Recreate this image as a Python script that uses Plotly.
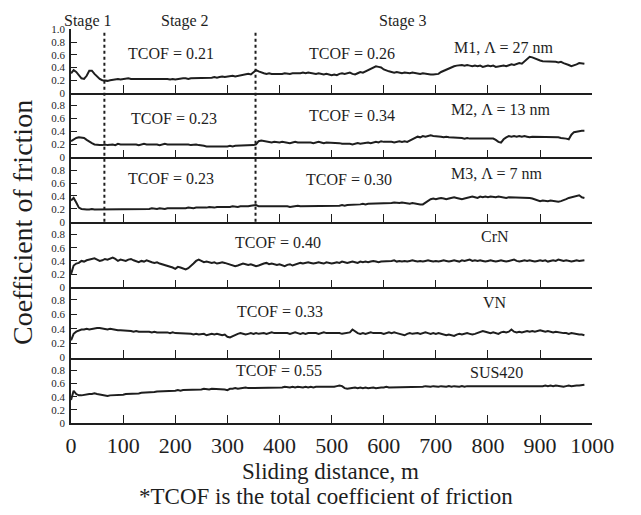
import plotly.graph_objects as go

# ---------------- data ----------------
distance_m = list(range(0, 990, 5))  # sampling grid of sliding distance, m

m1_cof = [
    0.31, 0.36, 0.33, 0.27, 0.23, 0.22, 0.27, 0.35, 0.35, 0.30, 0.26, 0.22, 0.20, 0.19, 0.19, 0.20, 0.21, 0.21, 0.22, 0.21,
    0.22, 0.22, 0.23, 0.22, 0.22, 0.23, 0.23, 0.22, 0.22, 0.23, 0.23, 0.22, 0.22, 0.23, 0.22, 0.22, 0.23, 0.22, 0.21, 0.22,
    0.21, 0.22, 0.22, 0.23, 0.23, 0.22, 0.23, 0.23, 0.24, 0.23, 0.23, 0.24, 0.24, 0.23, 0.24, 0.25, 0.24, 0.25, 0.26, 0.25,
    0.26, 0.26, 0.27, 0.26, 0.27, 0.28, 0.28, 0.29, 0.30, 0.29, 0.33, 0.36, 0.34, 0.32, 0.31, 0.30, 0.31, 0.30, 0.30, 0.29,
    0.30, 0.30, 0.31, 0.30, 0.30, 0.31, 0.31, 0.30, 0.31, 0.32, 0.31, 0.32, 0.31, 0.31, 0.30, 0.31, 0.30, 0.29, 0.30, 0.29,
    0.28, 0.29, 0.28, 0.30, 0.31, 0.30, 0.31, 0.32, 0.30, 0.29, 0.31, 0.33, 0.32, 0.34, 0.36, 0.37, 0.40, 0.42, 0.41, 0.40,
    0.37, 0.35, 0.34, 0.33, 0.32, 0.33, 0.32, 0.31, 0.32, 0.31, 0.31, 0.32, 0.31, 0.31, 0.30, 0.31, 0.30, 0.30, 0.29, 0.29,
    0.29, 0.30, 0.33, 0.35, 0.36, 0.38, 0.40, 0.42, 0.43, 0.44, 0.44, 0.43, 0.44, 0.43, 0.42, 0.43, 0.42, 0.43, 0.41, 0.42,
    0.43, 0.42, 0.43, 0.41, 0.42, 0.42, 0.43, 0.42, 0.44, 0.45, 0.44, 0.46, 0.47, 0.46, 0.50, 0.53, 0.57, 0.56, 0.54, 0.52,
    0.51, 0.50, 0.50, 0.49, 0.49, 0.50, 0.49, 0.48, 0.49, 0.47, 0.46, 0.44, 0.42, 0.43, 0.45, 0.47, 0.46, 0.46,
]
m2_cof = [
    0.25, 0.28, 0.30, 0.31, 0.31, 0.30, 0.27, 0.24, 0.22, 0.20, 0.19, 0.19, 0.19, 0.20, 0.19, 0.20, 0.20, 0.19, 0.21, 0.20,
    0.20, 0.21, 0.20, 0.20, 0.21, 0.20, 0.19, 0.20, 0.21, 0.20, 0.20, 0.21, 0.20, 0.20, 0.19, 0.20, 0.21, 0.20, 0.20, 0.21,
    0.21, 0.20, 0.20, 0.21, 0.20, 0.20, 0.19, 0.20, 0.20, 0.19, 0.19, 0.18, 0.17, 0.17, 0.16, 0.16, 0.17, 0.17, 0.16, 0.17,
    0.17, 0.18, 0.17, 0.18, 0.18, 0.19, 0.18, 0.18, 0.19, 0.18, 0.19, 0.20, 0.25, 0.26, 0.25, 0.24, 0.24, 0.23, 0.24, 0.23,
    0.23, 0.24, 0.23, 0.23, 0.22, 0.23, 0.24, 0.23, 0.23, 0.24, 0.23, 0.24, 0.23, 0.22, 0.23, 0.24, 0.23, 0.22, 0.23, 0.23,
    0.22, 0.22, 0.23, 0.22, 0.21, 0.21, 0.22, 0.21, 0.20, 0.21, 0.22, 0.21, 0.22, 0.22, 0.23, 0.22, 0.23, 0.24, 0.23, 0.25,
    0.24, 0.24, 0.25, 0.24, 0.23, 0.24, 0.25, 0.24, 0.25, 0.24, 0.26, 0.29, 0.31, 0.32, 0.31, 0.33, 0.32, 0.33, 0.34, 0.33,
    0.33, 0.32, 0.32, 0.31, 0.32, 0.31, 0.31, 0.30, 0.30, 0.31, 0.30, 0.29, 0.30, 0.29, 0.29, 0.28, 0.29, 0.28, 0.28, 0.29,
    0.28, 0.28, 0.29, 0.27, 0.24, 0.23, 0.28, 0.31, 0.33, 0.32, 0.33, 0.32, 0.33, 0.32, 0.33, 0.32, 0.31, 0.32, 0.32, 0.31,
    0.32, 0.31, 0.32, 0.31, 0.31, 0.32, 0.31, 0.31, 0.30, 0.30, 0.29, 0.28, 0.35, 0.39, 0.40, 0.40, 0.41, 0.41,
]
m3_cof = [
    0.33, 0.37, 0.30, 0.22, 0.20, 0.19, 0.19, 0.19, 0.20, 0.19, 0.19, 0.20, 0.19, 0.19, 0.20, 0.19, 0.19, 0.20, 0.19, 0.19,
    0.20, 0.19, 0.20, 0.19, 0.19, 0.20, 0.20, 0.19, 0.20, 0.20, 0.20, 0.21, 0.20, 0.20, 0.21, 0.20, 0.20, 0.21, 0.21, 0.20,
    0.21, 0.21, 0.20, 0.21, 0.21, 0.22, 0.21, 0.21, 0.22, 0.22, 0.21, 0.22, 0.22, 0.23, 0.22, 0.22, 0.23, 0.23, 0.22, 0.23,
    0.23, 0.23, 0.24, 0.23, 0.23, 0.24, 0.24, 0.23, 0.24, 0.25, 0.25, 0.26, 0.24, 0.24, 0.25, 0.24, 0.24, 0.25, 0.24, 0.24,
    0.24, 0.25, 0.24, 0.24, 0.23, 0.24, 0.24, 0.25, 0.24, 0.24, 0.24, 0.25, 0.24, 0.25, 0.24, 0.25, 0.24, 0.25, 0.24, 0.24,
    0.25, 0.24, 0.25, 0.25, 0.26, 0.25, 0.26, 0.26, 0.27, 0.26, 0.27, 0.27, 0.28, 0.27, 0.28, 0.28, 0.29, 0.28, 0.29, 0.29,
    0.29, 0.28, 0.29, 0.29, 0.30, 0.29, 0.29, 0.30, 0.29, 0.29, 0.28, 0.29, 0.28, 0.28, 0.27, 0.27, 0.30, 0.33, 0.35, 0.36,
    0.35, 0.36, 0.37, 0.36, 0.35, 0.36, 0.37, 0.38, 0.37, 0.36, 0.35, 0.36, 0.37, 0.38, 0.39, 0.38, 0.37, 0.39, 0.38, 0.39,
    0.38, 0.39, 0.38, 0.38, 0.39, 0.38, 0.38, 0.37, 0.38, 0.38, 0.37, 0.38, 0.38, 0.37, 0.38, 0.37, 0.37, 0.36, 0.35, 0.33,
    0.32, 0.33, 0.32, 0.32, 0.33, 0.32, 0.32, 0.31, 0.32, 0.33, 0.35, 0.37, 0.38, 0.38, 0.40, 0.41, 0.38, 0.37,
]
crn_cof = [
    0.20, 0.33, 0.36, 0.37, 0.40, 0.39, 0.41, 0.42, 0.43, 0.44, 0.42, 0.40, 0.41, 0.43, 0.42, 0.44, 0.45, 0.43, 0.40, 0.42,
    0.41, 0.40, 0.42, 0.43, 0.41, 0.39, 0.38, 0.40, 0.39, 0.41, 0.39, 0.38, 0.37, 0.38, 0.36, 0.35, 0.33, 0.32, 0.31, 0.30,
    0.28, 0.31, 0.30, 0.29, 0.27, 0.29, 0.32, 0.36, 0.40, 0.42, 0.40, 0.38, 0.39, 0.38, 0.37, 0.38, 0.36, 0.37, 0.38, 0.37,
    0.36, 0.35, 0.34, 0.32, 0.33, 0.35, 0.36, 0.35, 0.34, 0.35, 0.33, 0.32, 0.33, 0.35, 0.36, 0.37, 0.35, 0.36, 0.35, 0.34,
    0.35, 0.33, 0.32, 0.34, 0.35, 0.33, 0.34, 0.36, 0.37, 0.36, 0.37, 0.38, 0.37, 0.36, 0.37, 0.38, 0.37, 0.36, 0.38, 0.37,
    0.36, 0.37, 0.38, 0.37, 0.39, 0.38, 0.37, 0.38, 0.39, 0.38, 0.37, 0.39, 0.38, 0.39, 0.38, 0.39, 0.40, 0.39, 0.38, 0.39,
    0.39, 0.40, 0.39, 0.40, 0.41, 0.39, 0.40, 0.39, 0.40, 0.39, 0.40, 0.41, 0.40, 0.39, 0.40, 0.39, 0.40, 0.41, 0.40, 0.39,
    0.40, 0.39, 0.40, 0.41, 0.40, 0.39, 0.40, 0.41, 0.40, 0.39, 0.41, 0.40, 0.41, 0.42, 0.40, 0.41, 0.40, 0.41, 0.40, 0.39,
    0.40, 0.41, 0.40, 0.39, 0.40, 0.41, 0.40, 0.39, 0.40, 0.41, 0.42, 0.40, 0.39, 0.40, 0.41, 0.40, 0.41, 0.40, 0.39, 0.40,
    0.41, 0.40, 0.41, 0.39, 0.40, 0.41, 0.40, 0.42, 0.41, 0.40, 0.41, 0.40, 0.39, 0.40, 0.41, 0.40, 0.41, 0.41,
]
vn_cof = [
    0.24, 0.33, 0.36, 0.38, 0.39, 0.39, 0.40, 0.39, 0.40, 0.40, 0.41, 0.41, 0.40, 0.39, 0.39, 0.40, 0.39, 0.38, 0.38, 0.38,
    0.38, 0.37, 0.38, 0.37, 0.36, 0.37, 0.36, 0.36, 0.37, 0.36, 0.36, 0.35, 0.36, 0.35, 0.35, 0.35, 0.36, 0.35, 0.34, 0.35,
    0.34, 0.34, 0.33, 0.34, 0.33, 0.34, 0.33, 0.32, 0.33, 0.32, 0.32, 0.33, 0.31, 0.32, 0.33, 0.32, 0.33, 0.32, 0.31, 0.32,
    0.29, 0.28, 0.30, 0.32, 0.33, 0.34, 0.33, 0.32, 0.33, 0.34, 0.33, 0.34, 0.33, 0.34, 0.34, 0.33, 0.34, 0.35, 0.34, 0.34,
    0.34, 0.35, 0.34, 0.34, 0.33, 0.34, 0.35, 0.34, 0.33, 0.34, 0.33, 0.34, 0.34, 0.35, 0.34, 0.33, 0.34, 0.35, 0.34, 0.34,
    0.34, 0.34, 0.35, 0.34, 0.33, 0.34, 0.34, 0.35, 0.39, 0.36, 0.34, 0.33, 0.34, 0.33, 0.34, 0.35, 0.34, 0.34, 0.35, 0.34,
    0.33, 0.34, 0.35, 0.34, 0.35, 0.34, 0.33, 0.32, 0.31, 0.33, 0.34, 0.33, 0.34, 0.34, 0.33, 0.34, 0.35, 0.34, 0.33, 0.34,
    0.33, 0.34, 0.33, 0.32, 0.31, 0.32, 0.31, 0.30, 0.32, 0.33, 0.32, 0.33, 0.34, 0.33, 0.32, 0.33, 0.34, 0.35, 0.37, 0.36,
    0.35, 0.34, 0.35, 0.34, 0.33, 0.35, 0.36, 0.35, 0.36, 0.39, 0.36, 0.35, 0.36, 0.35, 0.36, 0.37, 0.36, 0.37, 0.36, 0.37,
    0.38, 0.37, 0.36, 0.37, 0.36, 0.35, 0.36, 0.35, 0.34, 0.34, 0.34, 0.33, 0.34, 0.33, 0.33, 0.32, 0.32, 0.31,
]
sus420_cof = [
    0.35, 0.49, 0.44, 0.42, 0.42, 0.43, 0.43, 0.44, 0.44, 0.45, 0.44, 0.43, 0.42, 0.42, 0.41, 0.42, 0.42, 0.43, 0.43, 0.43,
    0.43, 0.44, 0.44, 0.44, 0.45, 0.45, 0.45, 0.46, 0.46, 0.46, 0.47, 0.47, 0.47, 0.48, 0.48, 0.48, 0.49, 0.48, 0.49, 0.49,
    0.49, 0.50, 0.49, 0.50, 0.50, 0.50, 0.51, 0.50, 0.50, 0.51, 0.51, 0.52, 0.51, 0.51, 0.52, 0.52, 0.51, 0.52, 0.52, 0.51,
    0.50, 0.52, 0.52, 0.53, 0.52, 0.53, 0.53, 0.54, 0.53, 0.53, 0.53, 0.54, 0.53, 0.53, 0.54, 0.54, 0.53, 0.54, 0.53, 0.54,
    0.54, 0.54, 0.55, 0.54, 0.54, 0.55, 0.54, 0.55, 0.54, 0.54, 0.55, 0.54, 0.55, 0.54, 0.55, 0.55, 0.54, 0.55, 0.55, 0.54,
    0.55, 0.55, 0.56, 0.57, 0.56, 0.53, 0.52, 0.53, 0.53, 0.54, 0.53, 0.54, 0.53, 0.54, 0.53, 0.54, 0.54, 0.53, 0.54, 0.54,
    0.54, 0.55, 0.54, 0.54, 0.55, 0.54, 0.55, 0.54, 0.55, 0.55, 0.54, 0.55, 0.55, 0.54, 0.55, 0.55, 0.56, 0.55, 0.55, 0.56,
    0.55, 0.55, 0.56, 0.55, 0.55, 0.56, 0.55, 0.56, 0.55, 0.55, 0.56, 0.55, 0.56, 0.56, 0.55, 0.56, 0.56, 0.55, 0.56, 0.56,
    0.55, 0.56, 0.56, 0.55, 0.56, 0.56, 0.55, 0.56, 0.55, 0.56, 0.56, 0.55, 0.56, 0.55, 0.56, 0.56, 0.55, 0.56, 0.56, 0.55,
    0.56, 0.56, 0.57, 0.56, 0.57, 0.56, 0.57, 0.56, 0.56, 0.55, 0.56, 0.57, 0.56, 0.57, 0.57, 0.57, 0.58, 0.58,
]

series = [m1_cof, m2_cof, m3_cof, crn_cof, vn_cof, sus420_cof]
sample_labels = ["M1, Λ = 27 nm", "M2, Λ = 13 nm", "M3, Λ = 7 nm", "CrN", "VN", "SUS420"]
tcof_labels = [
    ["TCOF = 0.21", "TCOF = 0.26"],
    ["TCOF = 0.23", "TCOF = 0.34"],
    ["TCOF = 0.23", "TCOF = 0.30"],
    ["TCOF = 0.40"],
    ["TCOF = 0.33"],
    ["TCOF = 0.55"],
]
stage_labels = ["Stage 1", "Stage 2", "Stage 3"]
stage_bounds_m = [64, 354]
x_tick_vals = [0, 100, 200, 300, 400, 500, 600, 700, 800, 900, 1000]

# ---------------- layout (pixel geometry) ----------------
W, H = 641, 515
FONT = "Liberation Serif"
INK = "#1e1e1e"

def fy(px):
    return 1 - px / H

def fx(px):
    return px / W

panel_px = [(24, 89), (89, 155), (155, 221), (221, 288), (288, 360), (360, 427)]
y_max = [1.0, 0.996, 0.996, 0.993, 0.976, 0.993]
x_dom = [fx(68), fx(613)]

fig = go.Figure()
layout = dict(
    width=W, height=H, margin=dict(l=0, r=0, t=0, b=0),
    paper_bgcolor="white", plot_bgcolor="white", showlegend=False,
    font=dict(family=FONT, color=INK),
)

for i, (vals, (top, bot)) in enumerate(zip(series, panel_px)):
    n = i + 1
    xa = "x" if n == 1 else f"x{n}"
    ya = "y" if n == 1 else f"y{n}"
    fig.add_trace(go.Scatter(x=distance_m, y=vals, mode="lines", xaxis=xa, yaxis=ya,
                             line=dict(color=INK, width=2), hoverinfo="skip"))
    yt = [0, 0.2, 0.4, 0.6, 0.8] + ([1.0] if n == 1 else [])
    ytt = ["0", "0.2", "0.4", "0.6", "0.8"] + (["1.0"] if n == 1 else [])
    layout["yaxis" if n == 1 else f"yaxis{n}"] = dict(
        domain=[fy(bot), fy(top)], range=[0, y_max[i]], anchor=xa,
        showline=True, linecolor=INK, linewidth=1.5, mirror=False,
        ticks="inside", ticklen=6, tickwidth=1.2, tickcolor=INK,
        tickvals=yt, ticktext=ytt, tickfont=dict(family=FONT, size=11, color=INK),
        ticklabelstandoff=2,
        showgrid=False, zeroline=False, fixedrange=True,
    )
    xa_cfg = dict(
        domain=x_dom, range=[0, 1000], anchor=ya,
        showline=True, linecolor=INK, linewidth=1.5,
        ticks="inside", ticklen=8, tickwidth=1.2, tickcolor=INK,
        tickvals=x_tick_vals, ticktext=[str(v) for v in x_tick_vals],
        showticklabels=(n == 6), tickfont=dict(family=FONT, size=22, color=INK),
        ticklabelstandoff=2,
        showgrid=False, zeroline=False, fixedrange=True,
    )
    if n > 1:
        xa_cfg["matches"] = "x"
    layout["xaxis" if n == 1 else f"xaxis{n}"] = xa_cfg

fig.update_layout(**layout)

# stage boundaries (dotted)
for xb in stage_bounds_m:
    fig.add_shape(type="line", xref="x", yref="paper", x0=xb, x1=xb,
                  y0=fy(221), y1=fy(27), line=dict(color=INK, width=2, dash="dot"))

ann = []
def add_text(txt, xpx, ypx, size=16):
    ann.append(dict(text=txt, x=fx(xpx), y=fy(ypx), xref="paper", yref="paper",
                    showarrow=False, xanchor="center", yanchor="middle",
                    font=dict(family=FONT, size=size, color=INK)))

for txt, xp in zip(stage_labels, [86, 187, 415]):
    add_text(txt, xp, 15)

sample_pos = [(520, 43), (517, 106), (513, 172), (511, 236), (511, 304), (513, 375)]
for txt, (xp, yp) in zip(sample_labels, sample_pos):
    add_text(txt, xp, yp)

tcof_pos = [
    [(173, 49), (362, 49)],
    [(176, 115), (362, 112)],
    [(173, 177), (359, 178)],
    [(284, 242)],
    [(286, 313)],
    [(285, 373)],
]
for labels, poss in zip(tcof_labels, tcof_pos):
    for txt, (xp, yp) in zip(labels, poss):
        add_text(txt, xp, yp)

add_text("Sliding distance, m", 339, 477, size=23)
add_text("*TCOF is the total coefficient of friction", 335, 502, size=23)
ann.append(dict(text="Coefficient of friction", x=fx(18), y=fy(222), xref="paper", yref="paper",
                showarrow=False, textangle=-90, xanchor="center", yanchor="middle",
                font=dict(family=FONT, size=28, color=INK)))

fig.update_layout(annotations=ann)
fig.write_html("out.html")
